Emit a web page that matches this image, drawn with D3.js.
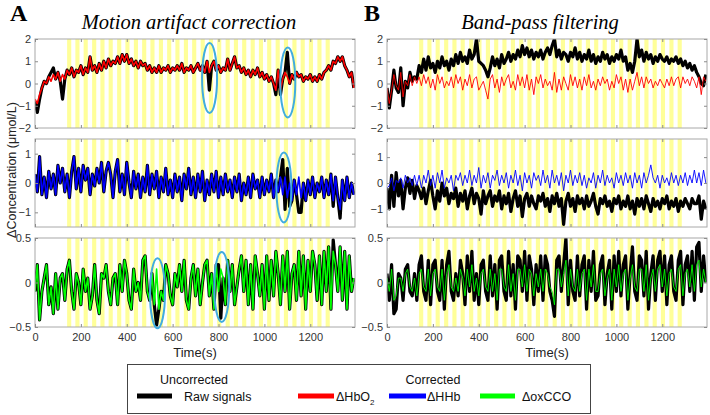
<!DOCTYPE html>
<html><head><meta charset="utf-8">
<script src="https://cdn.jsdelivr.net/npm/d3@7"></script>
<style>body{margin:0;background:#fff}svg{display:block}</style>
</head><body>
<svg id="c" width="710" height="415"></svg>
<script>
// ---------- DATA (sampled every 10 s, t = 0..1390 s) ----------
const timeStep = 10;
const stimOnsets = [140,176,212,249,285,321,358,394,431,467,503,540,576,612,649,685,722,758,794,831,867,903,940,976,1012,1049,1085,1122,1158,1194,1231,1267];
const stimDuration = 18;
const xTicks = [0,200,400,600,800,1000,1200];

// Panel A: motion artifact correction
const hbo2RawA = [
-0.8,-1.3,-0.7,-0.2,0.1,0.0,0.3,0.5,0.7,0.2,0.5,0.1,-0.7,0.2,0.6,0.4,0.7,0.3,0.6,0.5,
0.8,0.4,0.7,0.5,1.2,0.6,0.8,0.5,0.9,0.6,1.0,0.7,1.1,0.8,1.0,0.9,1.2,0.9,1.3,1.0,
1.3,0.9,1.1,0.8,1.0,0.7,1.0,0.8,0.9,0.6,0.8,0.5,0.7,0.5,0.8,0.5,0.7,0.6,0.8,0.5,
0.7,0.6,0.8,0.6,0.9,0.5,0.7,0.6,0.8,0.5,0.7,0.9,0.6,0.8,0.5,1.0,-0.3,0.8,1.0,0.6,
0.8,0.5,0.7,0.6,1.1,0.6,0.9,1.2,0.7,0.8,0.5,0.7,0.4,0.6,0.3,0.6,0.4,0.7,0.3,0.5,
0.2,0.4,0.1,0.3,0.0,-0.5,0.6,-0.5,0.2,0.5,1.4,0.0,0.4,0.2,0.5,0.3,0.4,0.1,0.3,0.2,
0.4,0.1,0.3,0.1,0.4,0.2,0.5,0.6,0.8,0.6,1.0,0.9,1.2,1.0,1.2,0.8,0.6,0.3,0.5,-0.2];
const hbo2CorrA = [
-0.7,-0.9,-0.5,-0.2,0.1,0.0,0.3,0.1,0.4,0.2,0.5,0.1,0.4,0.2,0.6,0.4,0.7,0.3,0.6,0.5,
0.8,0.4,0.7,0.5,1.2,0.6,0.8,0.5,0.9,0.6,1.0,0.7,1.1,0.8,1.0,0.9,1.2,0.9,1.3,1.0,
1.3,0.9,1.1,0.8,1.0,0.7,1.0,0.8,0.9,0.6,0.8,0.5,0.7,0.5,0.8,0.5,0.7,0.6,0.8,0.5,
0.7,0.6,0.8,0.6,0.9,0.5,0.7,0.6,0.8,0.5,0.7,0.9,0.6,0.8,0.5,1.0,0.5,0.8,1.0,0.6,
0.8,0.5,0.7,0.6,1.1,0.6,0.9,1.2,0.7,0.8,0.5,0.7,0.4,0.6,0.3,0.6,0.4,0.7,0.3,0.5,
0.2,0.4,0.1,0.3,0.0,-0.3,0.6,-0.3,0.2,0.5,0.3,0.0,0.4,0.2,0.5,0.3,0.4,0.1,0.3,0.2,
0.4,0.1,0.3,0.1,0.4,0.2,0.5,0.6,0.8,0.6,1.0,0.9,1.2,1.0,1.2,0.8,0.6,0.3,0.5,-0.2];
const hhbRawA = [
0.3,-0.3,0.9,-0.4,0.2,-0.5,0.4,-0.2,0.3,-0.4,0.6,0.0,0.5,-0.3,0.3,-0.5,0.4,0.9,-0.2,0.5,
-0.3,0.6,0.1,0.5,-0.4,0.3,-0.1,0.5,0.0,0.7,-0.3,0.4,0.7,0.3,-0.5,0.4,0.8,-0.3,0.3,-0.4,
0.7,0.0,-0.5,0.4,-0.2,0.3,-0.5,0.2,-0.3,0.6,-0.4,0.3,-0.2,0.4,-0.5,0.2,-0.3,0.5,-0.4,0.1,
-0.5,0.3,-0.3,0.2,-0.6,0.3,-0.2,0.5,-0.4,0.2,-0.5,0.3,-0.3,0.4,-0.6,0.1,-0.4,0.3,-0.3,0.4,
-0.5,0.2,-0.4,0.3,-0.3,0.1,-0.5,0.2,-0.3,0.3,-0.6,0.0,-0.4,0.2,-0.5,0.3,-0.2,0.1,-0.5,0.2,
-0.4,0.1,-0.3,0.3,-0.5,0.1,-0.3,0.2,0.8,-0.9,0.5,-0.8,-0.6,0.1,-0.4,-1.0,-1.0,0.0,-0.6,0.1,
-0.4,0.2,-0.5,0.0,-0.3,0.2,-0.5,0.1,-0.4,0.3,-0.8,0.2,-0.5,-1.2,0.1,-0.6,0.2,-0.5,0.0,-0.4];
const hhbCorrA = [
0.3,-0.3,0.9,-0.4,0.2,-0.5,0.4,-0.2,0.3,-0.4,0.6,0.0,0.5,-0.3,0.3,-0.5,0.4,0.9,-0.2,0.5,
-0.3,0.6,0.1,0.5,-0.4,0.3,-0.1,0.5,0.0,0.7,-0.3,0.4,0.7,0.3,-0.5,0.4,0.8,-0.3,0.3,-0.4,
0.7,0.0,-0.5,0.4,-0.2,0.3,-0.5,0.2,-0.3,0.6,-0.4,0.3,-0.2,0.4,-0.5,0.2,-0.3,0.5,-0.4,0.1,
-0.5,0.3,-0.3,0.2,-0.6,0.3,-0.2,0.5,-0.4,0.2,-0.5,0.3,-0.3,0.4,-0.6,0.1,-0.4,0.3,-0.3,0.4,
-0.5,0.2,-0.4,0.3,-0.3,0.1,-0.5,0.2,-0.3,0.3,-0.6,0.0,-0.4,0.2,-0.5,0.3,-0.2,0.1,-0.5,0.2,
-0.4,0.1,-0.3,0.3,-0.5,0.1,-0.3,0.2,-0.4,0.2,-0.5,0.0,-0.6,0.1,-0.4,0.2,-0.5,0.0,-0.6,0.1,
-0.4,0.2,-0.5,0.0,-0.3,0.2,-0.5,0.1,-0.4,0.3,-0.6,0.2,-0.5,-0.9,0.1,-0.6,0.2,-0.5,0.0,-0.4];
const oxRawA = [
-0.1,0.2,-0.42,-0.1,0.05,0.2,-0.25,-0.05,-0.35,0.1,-0.3,0.05,0.1,-0.2,0.15,0.25,-0.1,-0.3,0.1,0.0,
-0.25,0.15,-0.1,0.05,-0.3,-0.15,0.2,-0.2,-0.35,0.1,0.05,0.2,-0.1,-0.25,0.05,0.1,-0.25,0.2,-0.1,0.25,
0.1,-0.2,-0.3,0.15,-0.1,0.0,-0.2,0.25,0.3,-0.1,-0.2,0.1,-0.25,-0.48,-0.3,-0.1,-0.2,0.2,0.1,-0.15,
-0.25,0.1,-0.05,0.2,-0.1,0.25,-0.2,-0.3,0.05,0.2,-0.15,0.15,-0.25,0.0,0.2,0.25,-0.15,0.1,-0.3,0.2,
0.2,-0.4,0.05,-0.25,0.25,-0.1,0.2,-0.25,-0.05,0.15,0.3,-0.1,0.25,-0.25,0.2,-0.3,0.3,0.1,-0.15,0.2,
-0.3,0.3,-0.2,0.25,-0.15,0.35,0.1,-0.25,0.3,-0.1,0.35,-0.3,0.1,0.2,-0.2,0.35,-0.15,0.3,-0.3,0.25,
-0.1,0.35,0.2,-0.2,0.3,-0.25,0.35,-0.1,0.4,-0.3,0.48,0.2,-0.1,0.4,-0.2,0.35,-0.3,0.3,-0.1,0.05];
const oxCorrA = [
-0.1,0.2,-0.42,-0.1,0.05,0.2,-0.25,-0.05,-0.35,0.1,-0.3,0.05,0.1,-0.2,0.15,0.25,-0.1,-0.3,0.1,0.0,
-0.25,0.15,-0.1,0.05,-0.3,-0.15,0.2,-0.2,-0.35,0.1,0.05,0.2,-0.1,-0.25,0.05,0.1,-0.25,0.2,-0.1,0.25,
0.1,-0.2,-0.3,0.15,-0.1,0.0,-0.2,0.25,0.3,-0.1,-0.2,0.1,-0.25,0.15,-0.3,-0.1,-0.2,0.2,0.1,-0.15,
-0.25,0.1,-0.05,0.2,-0.1,0.25,-0.2,-0.3,0.05,0.2,-0.15,0.15,-0.25,0.0,0.2,0.25,-0.15,0.1,-0.3,0.2,
-0.1,0.15,0.05,-0.25,0.25,-0.1,0.2,-0.25,-0.05,0.15,0.3,-0.1,0.25,-0.25,0.2,-0.3,0.3,0.1,-0.15,0.2,
-0.3,0.3,-0.2,0.25,-0.15,0.35,0.1,-0.25,0.3,-0.1,0.35,-0.3,0.1,0.2,-0.2,0.35,-0.15,0.3,-0.3,0.25,
-0.1,0.35,0.2,-0.2,0.3,-0.25,0.35,-0.1,0.4,-0.3,0.35,0.2,-0.1,0.4,-0.2,0.35,-0.3,0.3,-0.1,0.05];

// Panel B: band-pass filtering
const hbo2RawB = [
-0.2,-1.1,-0.3,0.6,-0.2,-0.4,0.7,-1.0,0.1,-0.2,0.5,0.1,0.3,0.2,0.8,0.5,1.1,0.6,1.2,0.7,
0.9,0.5,1.0,0.7,1.2,0.8,1.0,0.6,1.1,0.8,1.3,0.9,1.4,1.0,1.2,0.9,1.5,1.1,1.3,2.0,
1.0,0.9,0.8,0.6,0.3,0.7,1.2,0.8,1.1,0.7,1.3,0.9,1.1,1.4,1.0,1.3,1.1,1.5,1.2,1.7,
1.3,1.6,1.2,1.5,1.1,1.4,1.2,1.5,1.1,1.4,1.6,1.3,1.7,2.0,1.2,1.5,1.1,1.4,1.3,1.0,
1.4,1.2,1.6,1.1,1.4,1.0,1.3,1.1,1.5,1.0,1.3,0.9,1.2,1.0,1.4,1.1,1.3,0.9,1.2,1.0,
1.3,1.1,1.5,1.0,1.2,0.6,0.9,0.5,1.0,2.0,1.2,1.5,1.0,1.4,1.1,1.3,0.9,1.2,1.0,1.3,
1.1,1.0,1.2,0.9,1.1,1.0,1.2,0.9,1.1,0.8,1.0,0.7,0.9,0.6,0.8,0.5,0.3,0.0,-0.1,0.4];
const hbo2CorrB = [
-0.2,-0.9,-0.3,0.4,-0.1,-0.3,0.5,-0.6,0.1,-0.1,0.4,-0.1,0.3,0.0,0.3,-0.1,0.4,0.0,0.3,-0.2,
0.2,-0.3,0.4,0.0,0.3,-0.2,0.1,-0.1,0.3,-0.2,0.4,0.0,0.3,-0.3,0.2,-0.1,0.4,-0.2,0.2,0.3,
-0.3,-0.1,0.1,-0.3,-0.7,0.2,0.4,-0.2,0.2,-0.4,0.3,-0.1,0.2,0.4,-0.2,0.1,-0.3,0.4,-0.1,0.3,
-0.2,0.4,-0.3,0.2,-0.5,0.3,0.0,0.4,-0.2,0.2,-0.1,0.1,-0.3,0.5,-0.4,0.2,-0.3,0.3,0.0,-0.3,
0.4,-0.1,0.3,-0.2,0.2,-0.3,0.3,-0.1,0.4,-0.2,0.1,-0.3,0.2,-0.1,0.3,0.0,0.2,-0.3,0.1,-0.2,
0.4,0.0,0.3,-0.3,0.2,-0.4,0.2,-0.3,0.1,0.5,-0.1,0.3,-0.2,0.3,0.0,0.2,-0.2,0.1,-0.1,0.2,
0.0,-0.2,0.2,-0.1,0.3,-0.1,0.2,0.3,-0.2,0.3,0.0,0.2,-0.1,0.3,0.1,-0.2,0.3,-0.5,0.3,0.1];
const hhbRawB = [
-0.2,-1.0,0.3,-0.9,0.4,-0.5,0.1,-1.0,-0.2,0.2,-0.4,0.1,-0.6,-0.1,-0.3,-0.6,-0.2,-0.8,-0.3,0.1,
-0.5,-1.0,-0.3,-0.7,0.0,-0.5,-0.2,-0.8,-0.4,-0.6,-0.2,-0.9,-0.4,-0.7,-0.3,-1.0,-0.5,-0.2,-0.8,-0.4,
-0.6,-1.2,-0.3,-0.8,-0.5,-0.3,-0.9,-0.5,-0.7,-0.3,-1.0,-0.5,-0.8,-0.4,-1.1,-0.6,-0.3,-0.9,-0.5,-1.3,
-0.6,-0.4,-0.9,-0.5,-0.8,-1.0,-0.5,-0.7,-0.4,-0.9,-0.6,-1.1,-0.5,-0.8,-0.4,-0.9,-0.6,-1.6,-0.7,-0.4,
-0.9,-0.6,-1.1,-0.5,-0.8,-0.6,-1.0,-0.5,-0.9,-0.7,-0.4,-0.9,-1.2,-0.6,-0.8,-0.5,-0.9,-0.7,-1.1,-0.6,
-0.8,-0.5,-1.0,-0.7,-0.9,-0.5,-1.0,-0.7,-1.2,-0.6,-0.9,-0.6,-1.0,-0.5,-0.8,-1.1,-0.6,-0.9,-0.7,-1.0,
-0.6,-0.8,-0.5,-1.0,-0.7,-0.9,-0.6,-1.1,-0.7,-0.9,-0.6,-0.8,-1.0,-0.6,-0.8,-0.8,-0.5,-1.4,-0.7,-1.0];
const hhbCorrB = [
-0.2,-0.1,0.2,-0.3,0.1,0.0,0.2,-0.2,0.3,0.0,0.2,-0.1,0.3,-0.1,0.3,-0.2,0.3,0.0,0.5,-0.1,
0.3,-0.2,0.4,0.0,0.5,-0.2,0.2,0.0,0.3,-0.3,0.3,0.1,0.4,-0.1,0.3,0.0,0.5,-0.1,0.3,0.0,
0.6,-0.2,0.3,0.0,0.4,-0.2,0.3,0.1,0.5,-0.1,0.3,0.0,0.4,-0.2,0.3,0.0,0.5,-0.1,0.3,-0.3,
0.4,0.0,0.3,-0.2,0.4,0.1,0.3,-0.1,0.5,0.0,0.3,-0.2,0.5,0.0,0.3,-0.1,0.4,-0.3,0.3,0.0,
0.5,-0.1,0.3,0.0,0.4,-0.1,0.3,-0.2,0.2,0.0,0.4,-0.2,0.3,0.0,0.5,-0.1,0.3,0.0,0.2,-0.2,
0.4,0.0,0.3,-0.1,0.4,0.0,0.3,-0.2,0.4,0.0,0.3,-0.2,0.4,0.0,0.3,0.7,0.2,0.0,0.3,-0.2,
0.3,0.0,0.2,-0.1,0.4,0.0,0.3,-0.1,0.3,0.0,0.4,-0.1,0.3,0.0,0.5,0.0,0.4,-0.1,0.5,0.0];
const oxRawB = [
0.1,-0.2,0.2,-0.35,-0.3,0.1,0.05,-0.2,0.15,0.2,-0.1,-0.15,0.1,-0.2,0.2,0.3,-0.1,-0.2,0.25,-0.25,
0.2,0.25,-0.1,-0.2,0.25,-0.3,0.2,0.35,-0.1,-0.2,0.1,-0.15,0.25,0.1,-0.25,0.3,-0.1,0.35,-0.2,0.1,
-0.25,0.2,0.25,-0.1,-0.2,0.3,-0.15,0.2,-0.3,0.25,0.3,-0.1,-0.2,0.35,-0.15,0.2,-0.3,0.3,0.25,-0.1,
0.35,-0.2,0.3,0.15,-0.25,0.2,-0.1,0.3,-0.2,0.3,0.2,-0.1,-0.2,-0.38,0.25,0.3,-0.1,0.2,0.5,-0.25,
0.25,-0.1,-0.2,0.3,-0.15,0.2,0.3,-0.3,0.25,-0.1,0.35,-0.2,-0.15,0.2,0.3,-0.25,0.1,0.25,-0.3,0.3,
-0.1,0.35,-0.15,0.2,0.3,-0.3,0.1,0.4,-0.1,-0.2,0.3,0.25,-0.15,0.35,-0.3,0.1,0.3,-0.2,0.25,0.35,
-0.1,0.3,-0.25,0.2,0.3,-0.1,-0.2,0.25,0.35,-0.25,0.2,0.3,-0.1,0.35,-0.2,0.4,0.45,-0.1,0.3,0.0];
const oxCorrB = [
0.05,-0.1,0.15,-0.2,-0.15,0.05,0.05,-0.1,0.1,0.15,-0.05,-0.1,0.05,-0.15,0.1,0.15,-0.05,-0.1,0.15,-0.15,
0.1,0.15,-0.05,-0.1,0.15,-0.2,0.1,0.2,-0.05,-0.1,0.05,-0.1,0.15,0.05,-0.15,0.15,-0.05,0.2,-0.1,0.05,
-0.15,0.1,0.15,-0.05,-0.1,0.15,-0.1,0.1,-0.2,0.15,0.15,-0.05,-0.1,0.2,-0.1,0.1,-0.2,0.15,0.15,-0.05,
0.2,-0.1,0.15,0.1,-0.15,0.1,-0.05,0.15,-0.1,0.15,0.1,-0.05,-0.1,-0.25,0.15,0.15,-0.05,0.1,0.25,-0.15,
0.15,-0.05,-0.1,0.15,-0.1,0.1,0.15,-0.2,0.15,-0.05,0.2,-0.1,-0.1,0.1,0.15,-0.15,0.05,0.15,-0.2,0.15,
-0.05,0.2,-0.1,0.1,0.15,-0.2,0.05,0.2,-0.05,-0.1,0.15,0.15,-0.1,0.2,-0.2,0.05,0.15,-0.1,0.15,0.2,
-0.05,0.15,-0.15,0.1,0.15,-0.05,-0.1,0.15,0.2,-0.15,0.1,0.15,-0.05,0.2,-0.1,0.2,0.25,-0.05,0.15,0.0];

// Artifact markers (time s, value) in panel A
const artifactsHbO2 = [[761,0.25],[1102,0.05]];
const artifactsHHb = [[1085,-0.15]];
const artifactsOx = [[534,-0.12],[814,-0.05]];

// ---------- DRAW ----------
const svg = d3.select("#c");
const font = "'Liberation Sans', Arial, sans-serif";
const colRed = "#ff0000", colBlue = "#0000ff", colGreen = "#00ff00";

const cols = [{x0:35, x1:355}, {x0:387, x1:707}];
const rows = [{y0:39, y1:128}, {y0:139, y1:227}, {y0:238, y1:327}];

const panels = [
  {c:0, r:0, dom:[-2,2], yt:[-2,-1,0,1,2], raw:hbo2RawA, corr:hbo2CorrA, col:colRed, corrW:1.6, marks:artifactsHbO2},
  {c:0, r:1, dom:[-1.5,1.5], yt:[-1,0,1], raw:hhbRawA, corr:hhbCorrA, col:colBlue, corrW:1.6, marks:artifactsHHb},
  {c:0, r:2, dom:[-0.5,0.5], yt:[-0.5,0,0.5], raw:oxRawA, corr:oxCorrA, col:colGreen, corrW:1.6, marks:artifactsOx},
  {c:1, r:0, dom:[-2,2], yt:[-2,-1,0,1,2], raw:hbo2RawB, corr:hbo2CorrB, col:colRed, corrW:0.9, marks:[]},
  {c:1, r:1, dom:[-1.7,1.7], yt:[-1,0,1], raw:hhbRawB, corr:hhbCorrB, col:colBlue, corrW:0.9, marks:[]},
  {c:1, r:2, dom:[-0.5,0.5], yt:[-0.5,0,0.5], raw:oxRawB, corr:oxCorrB, col:colGreen, corrW:0.9, marks:[]}
];

const defs = svg.append("defs");

panels.forEach((p, i) => {
  const C = cols[p.c], R = rows[p.r];
  const x = d3.scaleLinear().domain([0, 1395]).range([C.x0, C.x1]);
  const y = d3.scaleLinear().domain(p.dom).range([R.y1, R.y0]);
  const g = svg.append("g");
  defs.append("clipPath").attr("id", "clip" + i)
    .append("rect").attr("x", C.x0).attr("y", R.y0).attr("width", C.x1 - C.x0).attr("height", R.y1 - R.y0);

  // stimulus blocks
  g.append("g").selectAll("rect").data(stimOnsets).join("rect")
    .attr("x", d => x(d)).attr("width", d => x(d + stimDuration) - x(d))
    .attr("y", R.y0).attr("height", R.y1 - R.y0)
    .attr("fill", "#ffff99");

  const line = d3.line().x((d, j) => x(j * timeStep)).y(d => y(d));
  const lg = g.append("g").attr("clip-path", `url(#clip${i})`);
  lg.append("path").datum(p.raw).attr("d", line)
    .attr("fill", "none").attr("stroke", "#000").attr("stroke-width", 3.2).attr("stroke-linejoin", "round");
  lg.append("path").datum(p.corr).attr("d", line)
    .attr("fill", "none").attr("stroke", p.col).attr("stroke-width", p.corrW).attr("stroke-linejoin", "round");

  // frame
  g.append("rect").attr("x", C.x0).attr("y", R.y0).attr("width", C.x1 - C.x0).attr("height", R.y1 - R.y0)
    .attr("fill", "none").attr("stroke", "#a8a8a8").attr("stroke-width", 1);

  const styleAxis = (sel) => {
    sel.select(".domain").remove();
    sel.selectAll(".tick line").attr("stroke", "#8c8c8c");
    sel.selectAll(".tick text").attr("fill", "#333").style("font-family", font).style("font-size", "11px");
  };
  const isBottom = p.r === 2;
  g.append("g").attr("transform", `translate(0,${R.y1})`)
    .call(d3.axisBottom(x).tickValues(xTicks).tickSize(-3).tickPadding(6.5).tickFormat(isBottom ? d3.format("d") : () => ""))
    .call(styleAxis);
  g.append("g").attr("transform", `translate(0,${R.y0})`)
    .call(d3.axisTop(x).tickValues(xTicks).tickSize(-3).tickFormat(() => ""))
    .call(styleAxis);
  g.append("g").attr("transform", `translate(${C.x0},0)`)
    .call(d3.axisLeft(y).tickValues(p.yt).tickSize(-3).tickPadding(4).tickFormat(d3.format("")))
    .call(styleAxis);
  g.append("g").attr("transform", `translate(${C.x1},0)`)
    .call(d3.axisRight(y).tickValues(p.yt).tickSize(-3).tickFormat(() => ""))
    .call(styleAxis);

  // artifact ellipses
  g.selectAll("ellipse").data(p.marks).join("ellipse")
    .attr("cx", d => x(d[0])).attr("cy", d => y(d[1]))
    .attr("rx", 7.5).attr("ry", 35)
    .attr("fill", "none").attr("stroke", "#41acdf").attr("stroke-width", 2);

  if (isBottom) {
    svg.append("text").attr("x", (C.x0 + C.x1) / 2).attr("y", 357)
      .attr("text-anchor", "middle").style("font-family", font).style("font-size", "13px").attr("fill", "#222")
      .text("Time(s)");
  }
});

// Titles
const serif = "'Liberation Serif', 'Times New Roman', serif";
svg.append("text").attr("x", 10).attr("y", 21).style("font-family", serif).style("font-weight", "bold").style("font-size", "24px").text("A");
svg.append("text").attr("x", 364).attr("y", 21).style("font-family", serif).style("font-weight", "bold").style("font-size", "24px").text("B");
svg.append("text").attr("x", 189).attr("y", 29).attr("text-anchor", "middle").style("font-family", serif).style("font-style", "italic").style("font-size", "20.5px").text("Motion artifact correction");
svg.append("text").attr("x", 540).attr("y", 29).attr("text-anchor", "middle").style("font-family", serif).style("font-style", "italic").style("font-size", "20.5px").text("Band-pass filtering");

// Y label
svg.append("text").attr("transform", "translate(16,170) rotate(-90)").attr("text-anchor", "middle")
  .style("font-family", font).style("font-size", "12.5px").attr("fill", "#222").text("ΔConcentration (μmol/L)");

// Legend
const lg = svg.append("g");
lg.append("rect").attr("x", 127.5).attr("y", 364.5).attr("width", 463).attr("height", 49)
  .attr("fill", "#fff").attr("stroke", "#444").attr("stroke-width", 1);
const lt = (x, y, t, anchor) => lg.append("text").attr("x", x).attr("y", y).attr("text-anchor", anchor || "start")
  .style("font-family", font).style("font-size", "12.5px").attr("fill", "#111").text(t);
lt(194, 384, "Uncorrected", "middle");
lt(433, 384, "Corrected", "middle");
const legendItems = [
  {x0:137, x1:172, col:"#000", label:"Raw signals", tx:184},
  {x0:298, x1:334, col:colRed, label:"ΔHbO", tx:336, sub:"2"},
  {x0:389, x1:426, col:colBlue, label:"ΔHHb", tx:427},
  {x0:480, x1:515, col:colGreen, label:"ΔoxCCO", tx:522}
];
legendItems.forEach(d => {
  lg.append("line").attr("x1", d.x0).attr("x2", d.x1).attr("y1", 396).attr("y2", 396)
    .attr("stroke", d.col).attr("stroke-width", 5);
  const t = lt(d.tx, 401, d.label);
  if (d.sub) t.append("tspan").attr("dy", 4).style("font-size", "8px").text(d.sub);
});
</script>
</body></html>
